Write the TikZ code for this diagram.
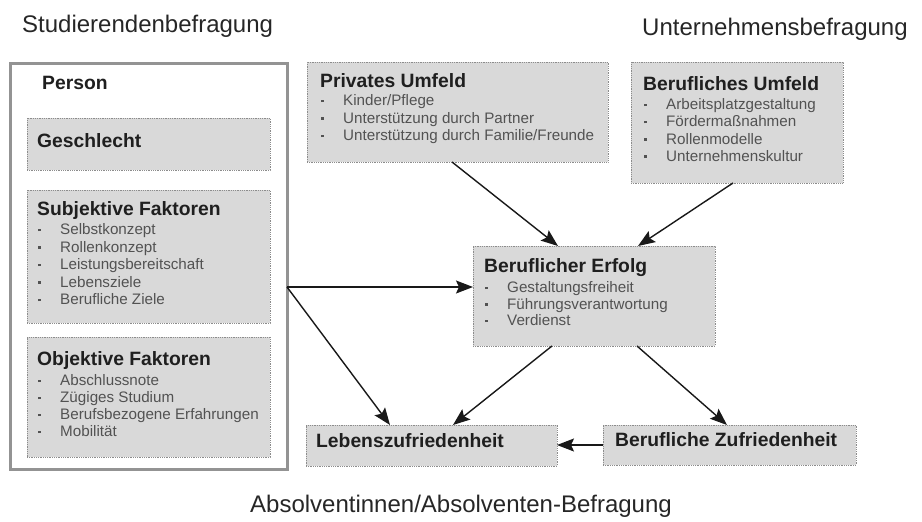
\documentclass[tikz,border=0pt]{standalone}
\usepackage{fontspec}
\setmainfont{Liberation Sans}
\usetikzlibrary{arrows.meta}
\definecolor{boxfill}{gray}{0.85}
\definecolor{boxline}{gray}{0.55}
\definecolor{itemcol}{gray}{0.32}
\newcommand{\bul}{\makebox[23pt][l]{\hspace*{1pt}\raisebox{3.5pt}{\rule{2.6pt}{2.6pt}}}}
\begin{document}
\begin{tikzpicture}[x=1pt,y=-1pt,
 box/.style={draw=boxline, fill=boxfill, densely dotted, line width=0.8pt, anchor=north west, inner sep=0pt, outer sep=0pt},
 outerbox/.style={draw=gray!85, line width=3pt, fill=white, anchor=north west, inner sep=0pt, outer sep=0pt},
 ttl/.style={font=\fontsize{24}{28}\selectfont, text=black!85, inner sep=0pt},
 head/.style={font=\bfseries\fontsize{19.3}{22}\selectfont, text=black!88, anchor=mid west, inner sep=0pt},
 item/.style={font=\fontsize{15.2}{17}\selectfont, text=itemcol, anchor=mid west, inner sep=0pt},
 arr/.style={-{Stealth[length=17pt,width=13pt,inset=3pt]}, line width=1.4pt, draw=black!90, fill=black!90}
]
\useasboundingbox (0,0) rectangle (922,522);

% titles
\node[ttl, anchor=base west] (tstud) at (22,32) {Studierendenbefragung};
\node[ttl, anchor=base west] (tunt) at (642,35) {Unternehmensbefragung};
\node[ttl, anchor=base] (tabs) at (461,512) {Absolventinnen/Absolventen-Befragung};

% person
\node[outerbox, minimum width=277pt, minimum height=406pt] (person) at (10,63) {};
\node[head] (hperson) at (42,87) {Person};

\node[box, minimum width=243pt, minimum height=52pt] (geschl) at (27,118) {};
\node[head] (hgeschl) at (37,145) {Geschlecht};

\node[box, minimum width=243pt, minimum height=133pt] (subj) at (27,190) {};
\node[head] (hsubj) at (37,213) {Subjektive Faktoren};
\foreach \t [count=\i] in {Selbstkonzept,Rollenkonzept,Leistungsbereitschaft,Lebensziele,Berufliche Ziele}
  \node[item] (subj-\i) at (37,{232+17.5*(\i-1)}) {\bul\t};

\node[box, minimum width=243pt, minimum height=120pt] (obj) at (27,337) {};
\node[head] (hobj) at (37,363) {Objektive Faktoren};
\foreach \t [count=\i] in {Abschlussnote,Zügiges Studium,Berufsbezogene Erfahrungen,Mobilität}
  \node[item] (obj-\i) at (37,{383+17*(\i-1)}) {\bul\t};

% privates umfeld
\node[box, minimum width=301pt, minimum height=100pt] (priv) at (307,62) {};
\node[head] (hpriv) at (320,85) {Privates Umfeld};
\foreach \t [count=\i] in {Kinder/Pflege,Unterstützung durch Partner,Unterstützung durch Familie/Freunde}
  \node[item] (priv-\i) at (320,{103+17.5*(\i-1)}) {\bul\t};

% berufliches umfeld
\node[box, minimum width=212pt, minimum height=121pt] (beruf) at (631,62) {};
\node[head] (hberuf) at (643,88) {Berufliches Umfeld};
\foreach \t [count=\i] in {Arbeitsplatzgestaltung,Fördermaßnahmen,Rollenmodelle,Unternehmenskultur}
  \node[item] (beruf-\i) at (643,{107+17.3*(\i-1)}) {\bul\t};

% beruflicher erfolg
\node[box, minimum width=242pt, minimum height=100pt] (erfolg) at (473,246) {};
\node[head] (herfolg) at (484,270) {Beruflicher Erfolg};
\foreach \t [count=\i] in {Gestaltungsfreiheit,Führungsverantwortung,Verdienst}
  \node[item] (erfolg-\i) at (484,{290+16.5*(\i-1)}) {\bul\t};

% bottom boxes
\node[box, minimum width=251pt, minimum height=41pt] (lebens) at (306,425) {};
\node[head] (hlebens) at (316,445) {Lebenszufriedenheit};
\node[box, minimum width=253pt, minimum height=40pt] (bz) at (603,425) {};
\node[head] (hbz) at (615,444) {Berufliche Zufriedenheit};

% connectors
\coordinate (ein) at ([yshift=9pt]erfolg.west);
\coordinate (pout) at (ein -| person.east);
\draw[arr] (pout) -- (ein);
\draw[arr] (pout) -- ([xshift=84pt]lebens.north west);
\draw[arr] ([xshift=79pt]erfolg.south west) -- ([xshift=147pt]lebens.north west);
\draw[arr] ([xshift=164pt]erfolg.south west) -- ([xshift=124pt]bz.north west);
\draw[arr] (bz.west) -- (bz.west -| lebens.east);
\draw[arr] ([xshift=145pt]priv.south west) -- ([xshift=85pt]erfolg.north west);
\draw[arr] ([xshift=102pt]beruf.south west) -- ([xshift=165pt]erfolg.north west);
\end{tikzpicture}
\end{document}
